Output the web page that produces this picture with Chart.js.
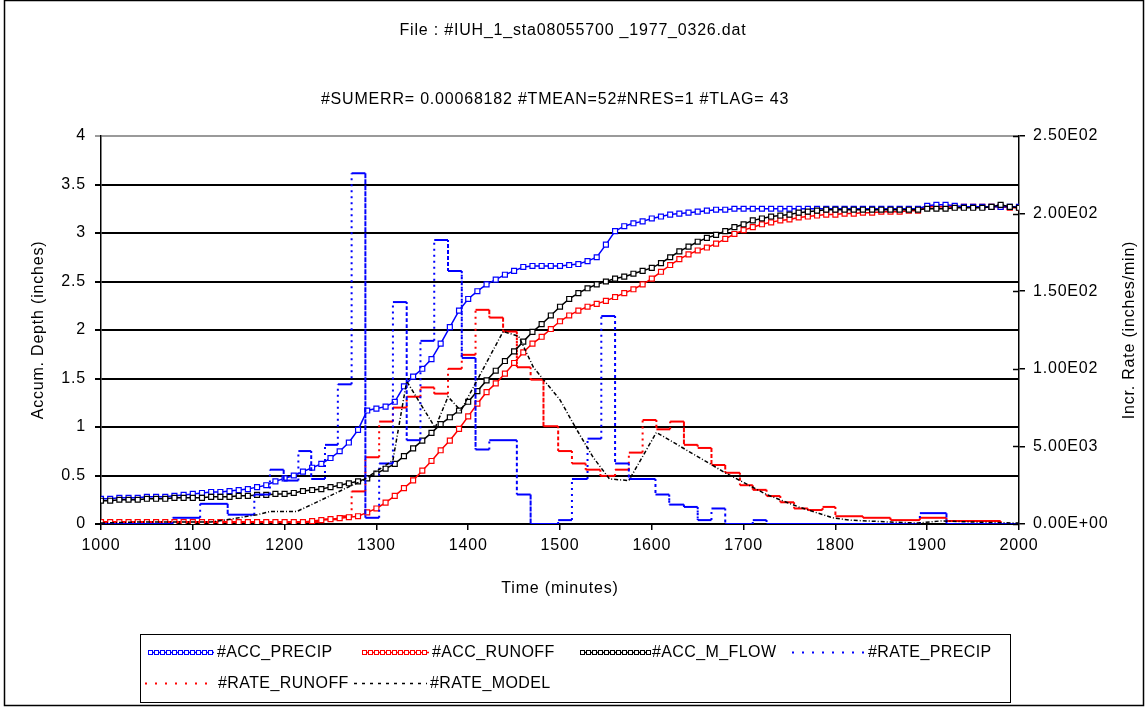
<!DOCTYPE html>
<html><head><meta charset="utf-8">
<script src="https://cdn.jsdelivr.net/npm/chart.js@4.4.0/dist/chart.umd.min.js"></script>
<style>html,body{margin:0;padding:0;background:#fff;}canvas{display:block;}</style>
</head><body>
<canvas id="c" width="1146" height="708"></canvas>
<script>
const chartTitle = "File : #IUH_1_sta08055700 _1977_0326.dat";
const chartSubtitle = "#SUMERR= 0.00068182 #TMEAN=52#NRES=1 #TLAG= 43";
const xTitle = "Time (minutes)";
const yLeftTitle = "Accum. Depth (inches)";
const yRightTitle = "Incr. Rate (inches/min)";
const rightTickLabels = ["0.00E+00","5.00E03","1.00E02","1.50E02","2.00E02","2.50E02"];
const seriesNames = ["#ACC_PRECIP","#ACC_RUNOFF","#ACC_M_FLOW","#RATE_PRECIP","#RATE_RUNOFF","#RATE_MODEL"];

const times = [1000,1010,1020,1030,1040,1050,1060,1070,1080,1090,1100,1110,1120,1130,1140,1150,1160,1170,1180,1190,
1200,1210,1220,1230,1240,1250,1260,1270,1280,1290,1300,1310,1320,1330,1340,1350,1360,1370,1380,1390,
1400,1410,1420,1430,1440,1450,1460,1470,1480,1490,1500,1510,1520,1530,1540,1550,1560,1570,1580,1590,
1600,1610,1620,1630,1640,1650,1660,1670,1680,1690,1700,1710,1720,1730,1740,1750,1760,1770,1780,1790,
1800,1810,1820,1830,1840,1850,1860,1870,1880,1890,1900,1910,1920,1930,1940,1950,1960,1970,1980,1990,2000];

const accPrecip = [0.26,0.26,0.27,0.27,0.27,0.28,0.28,0.28,0.29,0.30,0.31,0.32,0.33,0.33,0.34,0.35,0.36,0.38,0.40,0.44,
0.47,0.50,0.54,0.58,0.62,0.68,0.75,0.84,0.97,1.17,1.19,1.21,1.26,1.42,1.52,1.60,1.70,1.86,2.03,2.20,
2.32,2.40,2.47,2.52,2.57,2.61,2.65,2.66,2.66,2.66,2.66,2.67,2.68,2.71,2.75,2.88,3.02,3.07,3.10,3.12,
3.15,3.17,3.19,3.20,3.21,3.22,3.23,3.24,3.24,3.25,3.25,3.25,3.25,3.25,3.25,3.25,3.25,3.25,3.25,3.25,
3.25,3.25,3.25,3.25,3.25,3.25,3.25,3.25,3.25,3.25,3.28,3.29,3.29,3.28,3.27,3.27,3.27,3.27,3.27,3.27,3.27];

const accRunoff = [0.02,0.02,0.02,0.02,0.02,0.02,0.02,0.02,0.02,0.02,0.02,0.02,0.02,0.02,0.02,0.02,0.02,0.02,0.02,0.02,
0.02,0.02,0.02,0.03,0.04,0.05,0.06,0.07,0.08,0.12,0.16,0.22,0.29,0.37,0.45,0.55,0.65,0.76,0.86,0.98,
1.11,1.24,1.36,1.45,1.55,1.66,1.77,1.86,1.93,2.01,2.09,2.15,2.20,2.24,2.27,2.30,2.34,2.38,2.42,2.47,
2.53,2.60,2.67,2.73,2.78,2.82,2.85,2.89,2.94,2.99,3.03,3.06,3.09,3.11,3.13,3.14,3.16,3.17,3.18,3.19,
3.19,3.20,3.20,3.21,3.21,3.22,3.22,3.22,3.23,3.23,3.27,3.27,3.27,3.27,3.27,3.27,3.27,3.27,3.27,3.26,3.26];

const accMFlow = [0.24,0.24,0.25,0.25,0.25,0.26,0.26,0.26,0.27,0.27,0.27,0.27,0.28,0.28,0.28,0.29,0.29,0.30,0.30,0.31,
0.31,0.32,0.34,0.35,0.36,0.38,0.40,0.42,0.44,0.47,0.52,0.57,0.62,0.70,0.78,0.86,0.94,1.03,1.10,1.17,
1.26,1.37,1.48,1.58,1.68,1.78,1.88,1.98,2.06,2.15,2.24,2.32,2.38,2.43,2.47,2.50,2.53,2.55,2.58,2.61,
2.64,2.69,2.75,2.81,2.86,2.91,2.95,2.98,3.02,3.06,3.09,3.13,3.15,3.17,3.18,3.19,3.21,3.22,3.23,3.24,
3.24,3.24,3.24,3.24,3.24,3.24,3.24,3.24,3.24,3.24,3.25,3.25,3.25,3.26,3.26,3.26,3.26,3.27,3.29,3.27,3.26];

// Incremental rates (inches/min), step series: start time of each step and its value
const ratePrecipT = [1000,1078,1108,1138,1167,1184,1199,1215,1229,1244,1258,1273,1288,1303,1318,1333,1348,1363,1378,1393,
1408,1423,1453,1468,1498,1513,1530,1545,1560,1575,1604,1619,1635,1650,1665,1680,1710,1725,1892,1921];
const ratePrecipV = [0,0.0004,0.0013,0.0006,0.0019,0.0035,0.0028,0.0047,0.0029,0.0051,0.0090,0.0226,0.0004,0.0039,0.0143,0.0054,0.0118,0.0183,0.0163,0.0107,
0.0048,0.0054,0.0019,0,0.00025,0.0029,0.0055,0.0134,0.0039,0.0029,0.0019,0.00125,0.0011,0.00025,0.001,0,0.00025,0,0.0007,0];

const rateRunoffT = [1000,1240,1258,1273,1288,1303,1318,1333,1348,1363,1378,1393,1408,1423,1438,1453,1468,1482,1498,1513,
1528,1544,1560,1575,1590,1605,1620,1635,1650,1665,1680,1696,1710,1725,1740,1755,1770,1786,1800,1830,1860,1892,1921,1980];
const rateRunoffV = [0.000125,0.0003,0.0005,0.0021,0.0043,0.0066,0.0075,0.0082,0.0088,0.0084,0.0100,0.0109,0.0138,0.0133,0.0124,0.0101,0.0093,0.0063,0.0047,0.0039,
0.0035,0.0031,0.0035,0.0046,0.0067,0.0061,0.0066,0.0051,0.0049,0.0038,0.0033,0.0025,0.0022,0.0018,0.0014,0.001,0.0009,0.0011,0.0005,0.0004,0.00025,0.0004,0.0002,0];

const rateModelT = [1000,1040,1120,1140,1170,1184,1213,1224,1249,1270,1285,1300,1318,1333,1364,1378,1392,1438,1455,1471,
1500,1518,1536,1554,1575,1605,1631,1680,1725,1760,1797,1815,1860,1890,1915,1950,2000];
const rateModelV = [0.00006,0.000125,0.000125,0.0003,0.0006,0.0008,0.0008,0.0011,0.0018,0.0024,0.0028,0.0034,0.0041,0.0092,0.0062,0.0082,0.0073,0.0124,0.0121,0.0101,
0.0080,0.0061,0.0043,0.0029,0.0028,0.0059,0.0050,0.0033,0.0019,0.0011,0.0004,0.00025,0.000125,0.00006,0.0002,0.000125,0.00006];

const FONT = '"Liberation Sans", Arial, sans-serif';
const FSIZE = 16;
const BLUE = '#0000ff', RED = '#ff0000', BLACK = '#000000';

function xy(T, V) { return T.map((t, i) => ({x: t, y: V[i]})); }
function stepPoints(T, V, end) {
  const pts = [];
  for (let i = 0; i < T.length; i++) {
    const next = i + 1 < T.length ? T[i + 1] : end;
    pts.push({x: T[i], y: V[i]}, {x: next, y: V[i]});
  }
  return pts;
}
const stepDash = ctx => (ctx.p0.parsed.y === ctx.p1.parsed.y ? [] : [2, 4]);

const accStyle = (c) => ({
  borderColor: c, backgroundColor: '#fff', borderWidth: 1.5,
  pointStyle: 'rect', pointRadius: 3.5, pointBorderWidth: 1.2, pointBorderColor: c,
  pointBackgroundColor: '#fff', pointHoverRadius: 3.5, yAxisID: 'y', fill: false, tension: 0
});

const datasets = [
  Object.assign({label: seriesNames[0], data: xy(times, accPrecip), order: 3}, accStyle(BLUE)),
  Object.assign({label: seriesNames[1], data: xy(times, accRunoff), order: 4}, accStyle(RED)),
  Object.assign({label: seriesNames[2], data: xy(times, accMFlow), order: 2}, accStyle(BLACK)),
  {label: seriesNames[3], data: stepPoints(ratePrecipT, ratePrecipV, 2000), yAxisID: 'y2', borderColor: BLUE,
   borderWidth: 2, pointRadius: 0, fill: false, segment: {borderDash: stepDash}, order: 1},
  {label: seriesNames[4], data: stepPoints(rateRunoffT, rateRunoffV, 2000), yAxisID: 'y2', borderColor: RED,
   borderWidth: 2, pointRadius: 0, fill: false, segment: {borderDash: stepDash}, order: 5},
  {label: seriesNames[5], data: xy(rateModelT, rateModelV), yAxisID: 'y2', borderColor: BLACK,
   borderWidth: 1.5, pointRadius: 0, fill: false, borderDash: [4, 2, 1, 2], order: 0}
];

// legend: [sample start x, text start x, row y]
const legendPos = [[148, 217, 652], [362, 432, 652], [580, 652, 652], [792, 868, 652], [145, 218, 683], [354, 430, 683]];

const decor = {
  id: 'decor',
  beforeDraw(chart) {
    const ctx = chart.ctx;
    ctx.fillStyle = '#fff';
    ctx.fillRect(0, 0, chart.width, chart.height);
    ctx.letterSpacing = '0.8px';
  },
  afterDraw(chart) {
    const ctx = chart.ctx;
    const ca = chart.chartArea;
    ctx.save();
    ctx.letterSpacing = '0.8px';
    // outer chart border
    ctx.strokeStyle = '#000'; ctx.lineWidth = 1.5;
    ctx.strokeRect(4.5, 0.5, 1139, 705);
    // titles
    ctx.fillStyle = '#000';
    ctx.font = FSIZE + 'px ' + FONT;
    ctx.textAlign = 'center'; ctx.textBaseline = 'middle';
    ctx.fillText(chartTitle, 573, 31);
    ctx.fillText(chartSubtitle, 555, 100);
    // right-axis inner tick marks
    const s2 = chart.scales.y2;
    ctx.strokeStyle = '#000'; ctx.lineWidth = 1.5;
    s2.ticks.forEach(t => {
      const y = Math.round(s2.getPixelForValue(t.value)) + 0.5;
      ctx.beginPath(); ctx.moveTo(ca.right - 6, y); ctx.lineTo(ca.right, y); ctx.stroke();
    });
    // right axis title, reading bottom to top
    ctx.save();
    ctx.translate(1130, (ca.top + ca.bottom) / 2);
    ctx.rotate(-Math.PI / 2);
    ctx.fillText(yRightTitle, 0, 0);
    ctx.restore();
    // legend
    ctx.lineWidth = 1;
    ctx.strokeStyle = '#000';
    ctx.strokeRect(140.5, 634.5, 870, 68);
    ctx.textAlign = 'left';
    ctx.letterSpacing = '0.4px';
    chart.data.datasets.forEach((ds, i) => {
      const [lx, tx, ly] = legendPos[i];
      const len = tx - lx - 3;
      ctx.save();
      ctx.strokeStyle = ds.borderColor;
      if (i < 3) {
        ctx.lineWidth = 1.5;
        ctx.beginPath(); ctx.moveTo(lx, ly + 0.5); ctx.lineTo(lx + len, ly + 0.5); ctx.stroke();
        ctx.lineWidth = 1;
        for (let px = lx + 2; px < lx + len; px += 6) {
          ctx.fillStyle = '#fff';
          ctx.fillRect(px - 2, ly - 2, 4, 4);
          ctx.strokeRect(px - 2 + 0.5, ly - 2 + 0.5, 4, 4);
        }
      } else {
        ctx.lineWidth = i === 5 ? 1.5 : 2;
        ctx.setLineDash(i === 5 ? [3, 5] : [2, 8]);
        ctx.beginPath(); ctx.moveTo(lx, ly + 0.5); ctx.lineTo(lx + len, ly + 0.5); ctx.stroke();
      }
      ctx.restore();
      ctx.fillStyle = '#000';
      ctx.fillText(ds.label, tx, ly + 1);
    });
    ctx.restore();
  }
};

const tickFont = {family: FONT, size: FSIZE};

new Chart(document.getElementById('c'), {
  type: 'line',
  data: {datasets},
  plugins: [decor],
  options: {
    responsive: false, animation: false, devicePixelRatio: 1,
    layout: {padding: {top: 136, left: 0, right: 0, bottom: 108}},
    plugins: {legend: {display: false}, tooltip: {enabled: false}, title: {display: false}},
    scales: {
      x: {
        type: 'linear', position: 'bottom', min: 1000, max: 2000,
        ticks: {stepSize: 100, color: '#000', font: tickFont, padding: 6, maxRotation: 0, autoSkip: false,
          callback: v => String(v)},
        grid: {drawOnChartArea: false, drawTicks: true, tickLength: 6, color: '#000', lineWidth: 1.5},
        border: {color: '#000', width: 1.5},
        title: {display: true, text: xTitle, color: '#000', font: tickFont, padding: {top: 0, bottom: 2}},
        afterFit: s => { s.height = 76; }
      },
      y: {
        position: 'left', min: 0, max: 4,
        ticks: {stepSize: 0.5, color: '#000', font: tickFont, padding: 9, callback: v => String(v)},
        grid: {color: ctx => (ctx.tick && ctx.tick.value === 4 ? '#9a9a9a' : '#000'), lineWidth: 2, tickLength: 6},
        border: {color: '#000', width: 1.5},
        title: {display: true, text: yLeftTitle, color: '#000', font: tickFont, padding: {top: 29, bottom: 0}},
        afterFit: s => { s.width = 101; }
      },
      y2: {
        position: 'right', min: 0, max: 0.025,
        ticks: {stepSize: 0.005, color: '#000', font: tickFont, padding: 8,
          callback: v => rightTickLabels[Math.round(v / 0.005)]},
        grid: {drawOnChartArea: false, tickLength: 6, color: '#000', lineWidth: 1.5},
        border: {color: '#000', width: 1.5},
        afterFit: s => { s.width = 127; }
      }
    }
  }
});
</script>
</body></html>
